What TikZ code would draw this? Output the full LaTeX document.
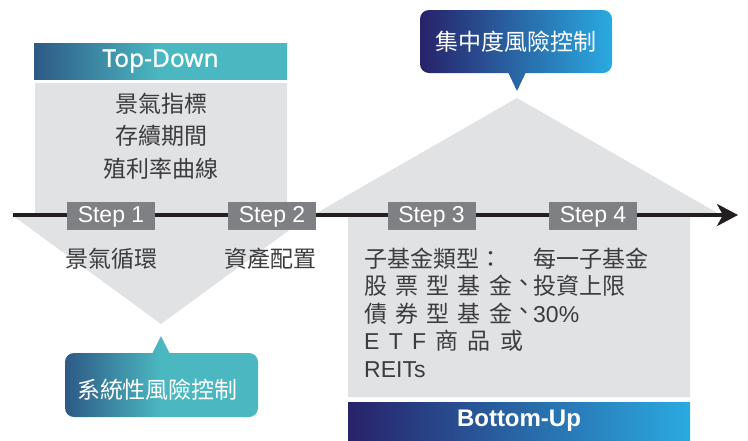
\documentclass[tikz,border=0pt]{standalone}
\usepackage{fontspec}
\setmainfont{Liberation Sans}
\newfontfamily\cjk{Noto Sans CJK TC}
\newfontfamily\lat{Liberation Sans}
\newfontfamily\notosans[FakeBold=0.6]{Noto Sans}
\usetikzlibrary{arrows.meta}
\definecolor{tdA}{HTML}{2D5A86}
\definecolor{tdB}{HTML}{4BB8C1}
\definecolor{nvA}{HTML}{28226A}
\definecolor{nvB}{HTML}{2AAAE1}
\definecolor{panel}{HTML}{E1E2E4}
\definecolor{stepgray}{HTML}{7F8083}
\definecolor{inkgray}{HTML}{3C3C3E}
\definecolor{axisline}{HTML}{231F20}
\pgfdeclarehorizontalshading{tealshade}{100bp}{color(0bp)=(tdA); color(25bp)=(tdA); color(50bp)=(tdB); color(75bp)=(tdB); color(100bp)=(tdB)}
\newcommand{\dunhao}{\hspace{0pt}\raisebox{3pt}{、}}
\begin{document}
\begin{tikzpicture}[x=1pt,y=-1pt,
  stepbox/.style={fill=stepgray, text=white, minimum width=88pt, minimum height=28pt,
    inner sep=0pt, text height=16.5pt, text depth=3.5pt, font=\fontsize{23}{23}\selectfont\lat},
  body/.style={text=inkgray, inner sep=0pt, font=\fontsize{23}{23}\selectfont\cjk},
  bodyl/.style={body, anchor=base west},
  bodyc/.style={body, anchor=base},
  calltext/.style={text=white, inner sep=0pt, font=\fontsize{23}{23}\selectfont\cjk},
  ]
\useasboundingbox (0,0) rectangle (748,440);
% grey panels
\fill[panel] (35,83) -- (287,83) -- (287,215) -- (310,215) -- (161,324) -- (12,215) -- (35,215) -- cycle;
\fill[panel] (517,98) -- (721,215) -- (690,215) -- (690,397) -- (348,397) -- (348,215) -- (313,215) -- cycle;
% time axis
\coordinate (ls) at (13,215);
\coordinate (le) at (738,215);
\draw[line width=4pt, axisline, -{Stealth[length=21pt,width=22pt,inset=6pt]}] (ls) -- (le);
% steps
\node[stepbox] (s1) at (111,216) {Step 1};
\node[stepbox] (s2) at (272,216) {Step 2};
\node[stepbox] (s3) at (431.5,216) {Step 3};
\node[stepbox] (s4) at (593,216) {Step 4};
% top-down texts
\node[bodyc] (ta) at (161,112) {景氣指標};
\node[bodyc] (tb) at (161,144.5) {存續期間};
\node[bodyc] (tc) at (161,177) {殖利率曲線};
% step texts
\node[bodyc] (s1t) at (111,267) {景氣循環};
\node[bodyc] (s2t) at (270.5,267) {資產配置};
\node[bodyl] (s3a) at (364,267) {子基金類型：};
\node[bodyl] (s3b) at (364,294.5) {\makebox[148pt][s]{股\hfill 票\hfill 型\hfill 基\hfill 金}\dunhao};
\node[bodyl] (s3c) at (364,322) {\makebox[148pt][s]{債\hfill 券\hfill 型\hfill 基\hfill 金}\dunhao};
\node[bodyl] (s3d) at (364,349.5) {\makebox[159pt][s]{\lat E\hfill T\hfill F\hfill\cjk 商\hfill 品\hfill 或}};
\node[bodyl] (s3e) at (364,377) {\lat REITs};
\node[bodyl] (s4a) at (533,267) {每一子基金};
\node[bodyl] (s4b) at (533,294.5) {投資上限};
\node[bodyl] (s4c) at (533,322) {\lat 30\%};
% headers
\node[shade, shading=tealshade, minimum width=253pt, minimum height=36pt, inner sep=0pt,
  text=white, font=\fontsize{24.5}{24.5}\selectfont\notosans] (td) at (160.5,61) {Top-Down};
\node[left color=nvA, right color=nvB, minimum width=342pt, minimum height=38pt, inner sep=0pt,
  text=white, font=\fontsize{24}{24}\selectfont\lat\bfseries] (bu) at (519,421) {Bottom-Up};
% callouts
\shade[left color=nvA, right color=nvB] [rounded corners=9pt] (420,10) rectangle (612,73)
  [sharp corners] (507,70) -- (517,91) -- (527,70) -- cycle;
\node[calltext] (cc) at (516,42) {集中度風險控制};
\shade[shading=tealshade] [rounded corners=9pt] (65,353) rectangle (258,417)
  [sharp corners] (171,356) -- (161,336) -- (151,356) -- cycle;
\node[calltext] (sc) at (157.5,390) {系統性風險控制};
\end{tikzpicture}
\end{document}
